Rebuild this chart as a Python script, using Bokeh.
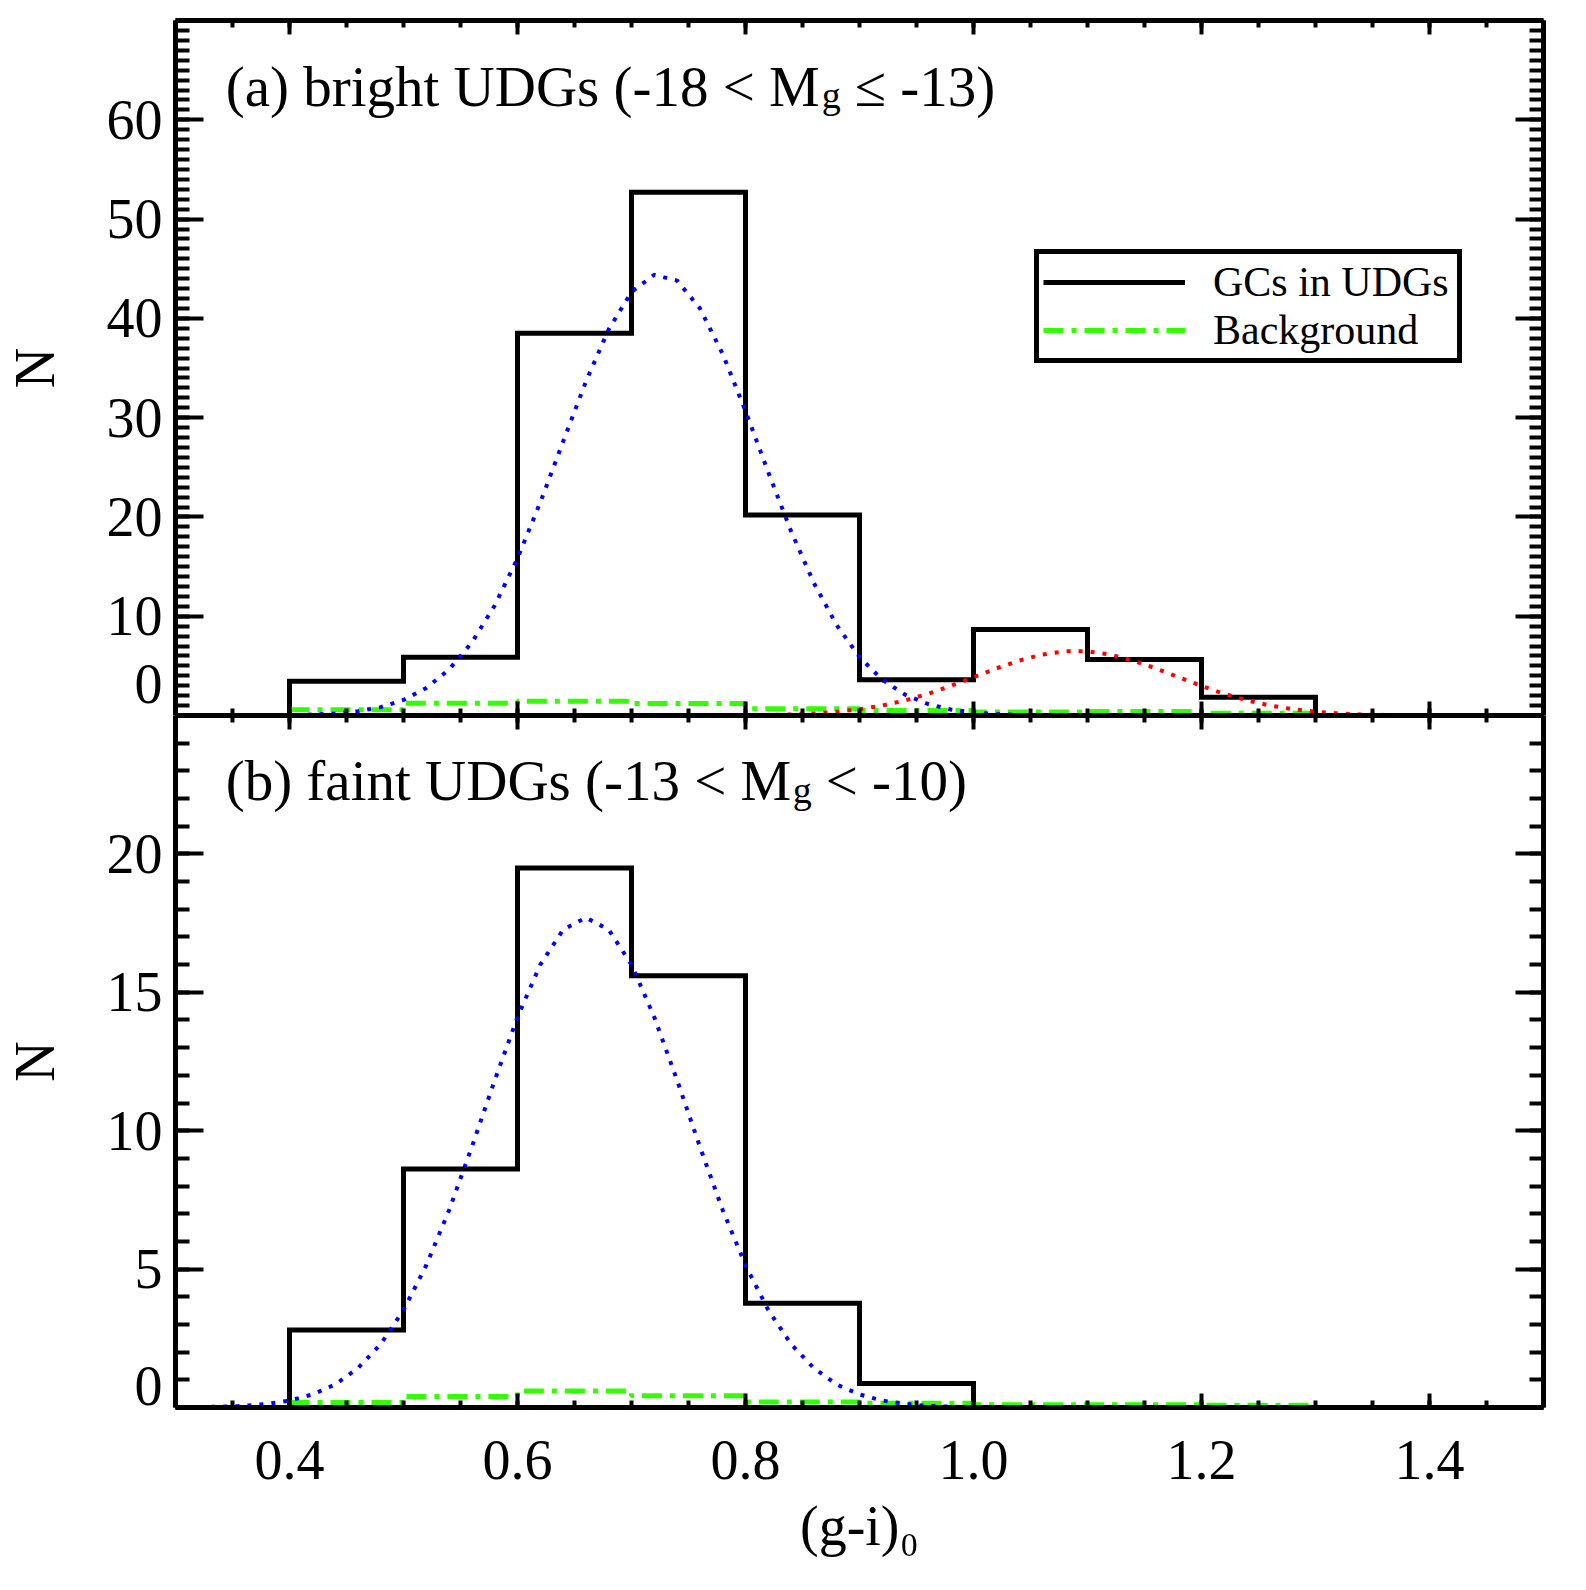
from bokeh.plotting import figure
from bokeh.layouts import column
from bokeh.models import (Range1d, FixedTicker, LinearAxis, Label, Legend,
                          LegendItem, CustomJSTickFormatter)
from bokeh.embed import file_html
from bokeh.resources import INLINE

# ---------------- data ----------------
bin_edges = [0.4, 0.5, 0.6, 0.7, 0.8, 0.9, 1.0, 1.1, 1.2, 1.3]

top_counts = [3.46, 5.87, 38.5, 52.7, 20.2, 3.6, 8.66, 5.64, 1.85]
top_background = [0.57, 1.24, 1.44, 1.2, 0.67, 0.5, 0.34, 0.4, 0.23]

bottom_counts = [2.8, 8.62, 19.49, 15.6, 3.77, 0.87]
bottom_background = [0.18, 0.4, 0.6, 0.42, 0.2, 0.15, 0.1, 0.1, 0.08]

curve_x = [0.30, 0.32, 0.34, 0.36, 0.38, 0.40, 0.42, 0.44, 0.46, 0.48,
           0.50, 0.52, 0.54, 0.56, 0.58, 0.60, 0.62, 0.64, 0.66, 0.68,
           0.70, 0.72, 0.74, 0.76, 0.78, 0.80, 0.82, 0.84, 0.86, 0.88,
           0.90, 0.92, 0.94, 0.96, 0.98, 1.00, 1.02, 1.04, 1.06, 1.08,
           1.10, 1.12, 1.14, 1.16, 1.18, 1.20, 1.22, 1.24, 1.26, 1.28,
           1.30, 1.32, 1.34, 1.36, 1.38, 1.40, 1.42, 1.44, 1.46, 1.48,
           1.50]

top_blue = [0.00, 0.00, 0.00, 0.01, 0.02, 0.04, 0.09, 0.20, 0.43, 0.84,
            1.57, 2.77, 4.64, 7.36, 11.08, 15.83, 21.47, 27.59, 33.63, 38.89,
            42.66, 44.39, 43.80, 41.01, 36.41, 30.66, 24.49, 18.55, 13.34, 9.09,
            5.88, 3.60, 2.10, 1.16, 0.61, 0.30, 0.14, 0.06, 0.03, 0.01,
            0.00, 0.00, 0.00, 0.00, 0.00, 0.00, 0.00, 0.00, 0.00, 0.00,
            0.00, 0.00, 0.00, 0.00, 0.00, 0.00, 0.00, 0.00, 0.00, 0.00,
            0.00]

top_red = [0.00, 0.00, 0.00, 0.00, 0.00, 0.00, 0.00, 0.00, 0.00, 0.00,
           0.00, 0.00, 0.00, 0.00, 0.00, 0.00, 0.00, 0.00, 0.00, 0.00,
           0.00, 0.00, 0.00, 0.00, 0.00, 0.03, 0.06, 0.11, 0.21, 0.38,
           0.63, 1.01, 1.52, 2.18, 2.98, 3.85, 4.74, 5.53, 6.13, 6.46,
           6.46, 6.13, 5.53, 4.74, 3.85, 2.98, 2.18, 1.52, 1.01, 0.63,
           0.38, 0.21, 0.11, 0.06, 0.03, 0.00, 0.00, 0.00, 0.00, 0.00,
           0.00]

bottom_blue = [0.01, 0.02, 0.03, 0.06, 0.13, 0.25, 0.47, 0.83, 1.42, 2.29,
               3.52, 5.14, 7.13, 9.42, 11.82, 14.10, 16.00, 17.26, 17.70, 17.26,
               16.00, 14.10, 11.82, 9.42, 7.13, 5.14, 3.52, 2.29, 1.42, 0.83,
               0.47, 0.25, 0.13, 0.06, 0.03, 0.01, 0.00, 0.00, 0.00, 0.00,
               0.00, 0.00, 0.00, 0.00, 0.00, 0.00, 0.00, 0.00, 0.00, 0.00,
               0.00, 0.00, 0.00, 0.00, 0.00, 0.00, 0.00, 0.00, 0.00, 0.00,
               0.00]

x_major_ticks = [0.4, 0.6, 0.8, 1.0, 1.2, 1.4]
x_minor_ticks = [0.30, 0.35, 0.40, 0.45, 0.50, 0.55, 0.60, 0.65, 0.70, 0.75,
                 0.80, 0.85, 0.90, 0.95, 1.00, 1.05, 1.10, 1.15, 1.20, 1.25,
                 1.30, 1.35, 1.40, 1.45, 1.50]
top_y_ticks = [0, 10, 20, 30, 40, 50, 60]
top_y_minor = list(range(0, 71))
bottom_y_ticks = [0, 5, 10, 15, 20]
bottom_y_minor = list(range(0, 26))

legend_labels = ["GCs in UDGs", "Background"]

# ---------------- styling ----------------
FONT = "Liberation Serif"
TICK_FS = "56px"
GREEN = "#33ff00"
BLUE = "#0000ff"
RED = "#ff0000"


def outline(edges, counts):
    n = len(counts)
    xs = [edges[0]] + list(edges[:n + 1])
    ys = [0] + list(counts) + [0]
    return xs, ys


def bg_step(edges, vals):
    n = len(vals)
    return list(edges[:n + 1]), list(vals) + [vals[-1]]


def make_axis(ticks, minor, is_y, labels):
    ax = LinearAxis(ticker=FixedTicker(ticks=ticks, minor_ticks=minor))
    ax.axis_line_width = 5
    ax.axis_line_color = "black"
    ax.major_tick_in = 28 if is_y else 14
    ax.major_tick_out = 0
    ax.minor_tick_in = 14 if is_y else 7
    ax.minor_tick_out = 0
    ax.major_tick_line_width = 4
    ax.minor_tick_line_width = 4
    ax.major_tick_line_color = "black"
    ax.minor_tick_line_color = "black"
    if labels:
        ax.major_label_text_font = FONT
        ax.major_label_text_font_size = TICK_FS
        ax.major_label_text_color = "black"
        ax.axis_label_text_font = FONT
        ax.axis_label_text_font_size = TICK_FS
        ax.axis_label_text_font_style = "normal"
        ax.axis_label_text_color = "black"
    else:
        ax.formatter = CustomJSTickFormatter(code="return ''")
        ax.major_label_text_font_size = "0px"
        ax.major_label_standoff = 0
        ax.axis_label_standoff = 0
    return ax


def make_fig(ymax, fh, btop, bbot):
    p = figure(x_range=Range1d(0.3, 1.5), y_range=Range1d(0, ymax),
               frame_width=1368, frame_height=fh,
               min_border_left=175, min_border_right=17,
               min_border_top=btop, min_border_bottom=bbot,
               x_axis_location=None, y_axis_location=None,
               output_backend="svg", toolbar_location=None)
    p.grid.visible = False
    p.outline_line_color = None
    p.background_fill_color = "white"
    p.border_fill_color = "white"
    return p


def left_axis(ticks, minor, zero_lift):
    ax = make_axis(ticks, minor, True, True)
    ax.major_label_standoff = 13
    # the zero label sits a little above its tick, as in the original
    ax.major_label_overrides = {0: "0\n"}
    ax.major_label_text_line_height = zero_lift
    ax.axis_label = "N"
    ax.axis_label_standoff = 38
    return ax


# ---------------- top panel ----------------
p1 = make_fig(70, 695, 20, 0)

p1.add_layout(left_axis(top_y_ticks, top_y_minor, 0.01), "left")
p1.add_layout(make_axis(top_y_ticks, top_y_minor, True, False), "right")
p1.add_layout(make_axis(x_major_ticks, x_minor_ticks, False, False), "above")
p1.add_layout(make_axis(x_major_ticks, x_minor_ticks, False, False), "below")

hx, hy = outline(bin_edges, top_counts)
r_hist1 = p1.step(hx, hy, mode="after", line_color="black", line_width=5,
                  line_join="miter")
gx, gy = bg_step(bin_edges, top_background)
r_bg1 = p1.step(gx, gy, mode="after", line_color=GREEN, line_width=5,
                line_dash="20 8 5 8")
p1.line(curve_x, top_blue, line_color=BLUE, line_width=4, line_dash="4 8")
p1.line(curve_x, top_red, line_color=RED, line_width=4, line_dash="4 8")

ann_fs = "57px"
p1.add_layout(Label(x=0.344, y=63.35, text="(a) bright UDGs (-18 < M",
                    text_font=FONT, text_font_size=ann_fs,
                    text_baseline="alphabetic", text_color="black"))
p1.add_layout(Label(x=0.344, y=62.45, x_offset=596, text="g",
                    text_font=FONT, text_font_size="38px",
                    text_baseline="alphabetic", text_color="black"))
p1.add_layout(Label(x=0.344, y=63.35, x_offset=629, text="≤ -13)",
                    text_font=FONT, text_font_size=ann_fs,
                    text_baseline="alphabetic", text_color="black"))

legend = Legend(items=[LegendItem(label=legend_labels[0], renderers=[r_hist1]),
                       LegendItem(label=legend_labels[1], renderers=[r_bg1])],
                location=(859, 352))
legend.border_line_color = "black"
legend.border_line_alpha = 1.0
legend.border_line_width = 5
legend.background_fill_color = "white"
legend.background_fill_alpha = 1.0
legend.padding = 4
legend.spacing = 0
legend.margin = 0
legend.glyph_width = 142
legend.glyph_height = 40
legend.label_height = 40
legend.label_width = 240
legend.label_standoff = 28
legend.label_text_font = FONT
legend.label_text_font_size = "42px"
legend.label_text_color = "black"
p1.add_layout(legend)

# ---------------- bottom panel ----------------
p2 = make_fig(25, 692, 0, 150)

p2.add_layout(left_axis(bottom_y_ticks, bottom_y_minor, 0.7), "left")
p2.add_layout(make_axis(bottom_y_ticks, bottom_y_minor, True, False), "right")
p2.add_layout(make_axis(x_major_ticks, x_minor_ticks, False, False), "above")

lx = make_axis(x_major_ticks, x_minor_ticks, False, True)
lx.major_label_standoff = 33
lx.formatter = CustomJSTickFormatter(code="return tick.toFixed(1)")
lx.axis_label = "(g-i)₀"
lx.axis_label_standoff = 13
p2.add_layout(lx, "below")

hx2, hy2 = outline(bin_edges, bottom_counts)
p2.step(hx2, hy2, mode="after", line_color="black", line_width=5,
        line_join="miter")
gx2, gy2 = bg_step(bin_edges, bottom_background)
p2.step(gx2, gy2, mode="after", line_color=GREEN, line_width=5,
        line_dash="20 8 5 8")
p2.line(curve_x, bottom_blue, line_color=BLUE, line_width=4, line_dash="4 8")

p2.add_layout(Label(x=0.344, y=22.64, text="(b) faint UDGs (-13 < M",
                    text_font=FONT, text_font_size=ann_fs,
                    text_baseline="alphabetic", text_color="black"))
p2.add_layout(Label(x=0.344, y=22.32, x_offset=567, text="g",
                    text_font=FONT, text_font_size="38px",
                    text_baseline="alphabetic", text_color="black"))
p2.add_layout(Label(x=0.344, y=22.64, x_offset=600, text="< -10)",
                    text_font=FONT, text_font_size=ann_fs,
                    text_baseline="alphabetic", text_color="black"))

layout = column(p1, p2, spacing=0)
open("out.html", "w").write(file_html(layout, INLINE))
